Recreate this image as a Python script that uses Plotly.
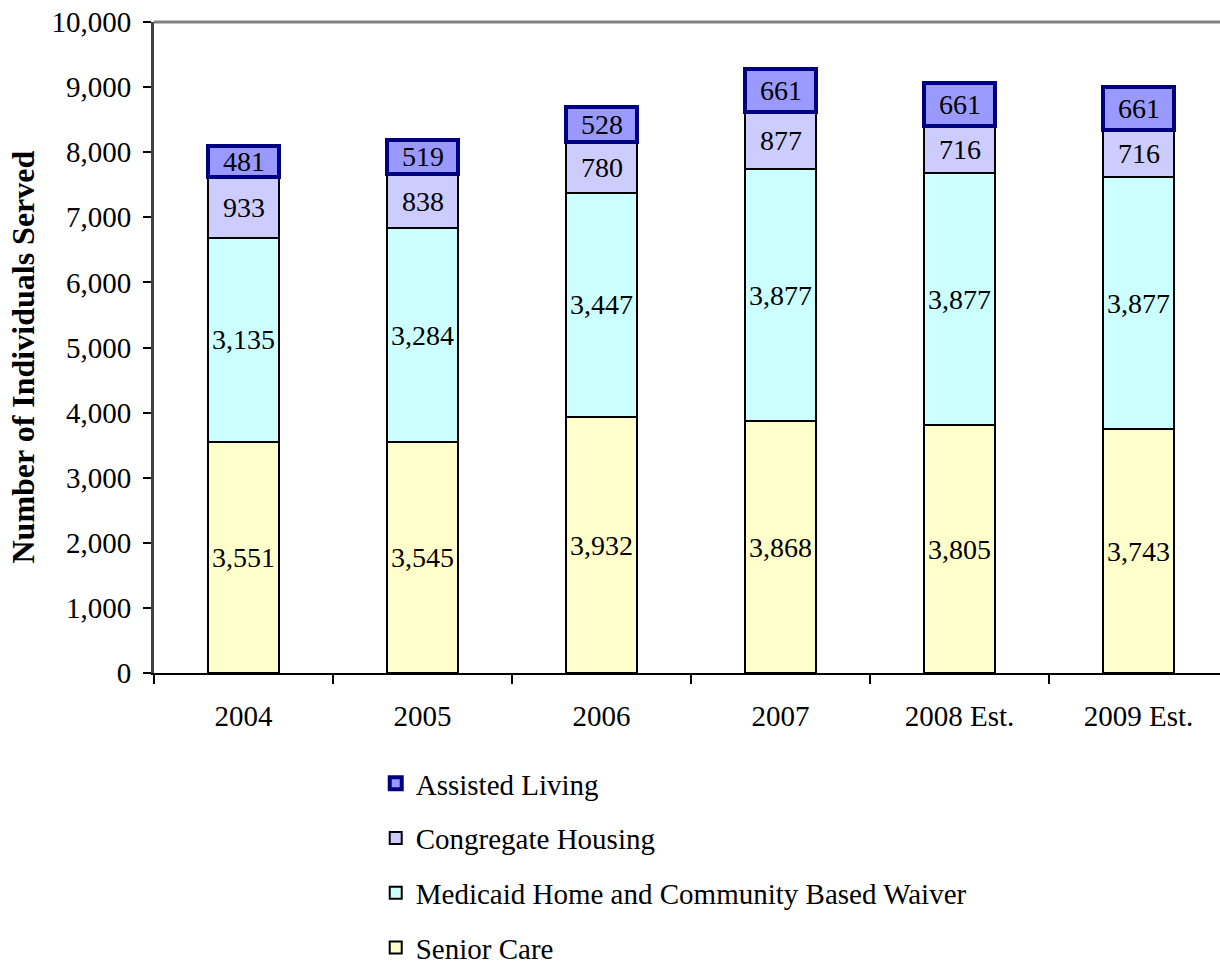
import plotly.graph_objects as go

years = ["2004", "2005", "2006", "2007", "2008 Est.", "2009 Est."]
senior_care = [3551, 3545, 3932, 3868, 3805, 3743]
medicaid_waiver = [3135, 3284, 3447, 3877, 3877, 3877]
congregate_housing = [933, 838, 780, 877, 716, 716]
assisted_living = [481, 519, 528, 661, 661, 661]

FONT = "Liberation Serif"

# name, values, fill, outline colour, outline width, legend rank
series = [
    ("Senior Care", senior_care, "#FFFFCC", "#000000", 2, 4),
    ("Medicaid Home and Community Based Waiver", medicaid_waiver, "#CCFFFF", "#000000", 2, 3),
    ("Congregate Housing", congregate_housing, "#CCCCFF", "#000000", 2, 2),
    ("Assisted Living", assisted_living, "#9999FF", "#000080", 4, 1),
]

fig = go.Figure()
base = [0] * len(years)
annotations = []
for name, vals, fill, edge, lw, rank in series:
    fig.add_trace(go.Bar(
        x=years, y=vals, name=name, legendgroup=name, legendrank=rank,
        marker=dict(color=fill, line=dict(color=edge, width=lw)),
        width=0.4,
    ))
    # value label centred in each segment
    for i, v in enumerate(vals):
        annotations.append(dict(
            x=i, y=base[i] + v / 2, xref="x", yref="y",
            text=f"{v:,}", showarrow=False,
            font=dict(family=FONT, size=28, color="#000000"),
        ))
        base[i] += v

annotations.append(dict(
    x=-131 / 1066, y=0.4846, xref="paper", yref="paper", xanchor="center", yanchor="middle",
    text="<b>Number of Individuals Served</b>", textangle=-90,
    showarrow=False, font=dict(family=FONT, size=32, color="#000000"),
))

fig.update_layout(
    barmode="stack",
    width=1220, height=964,
    margin=dict(l=154, r=0, t=22, b=291, autoexpand=False),
    paper_bgcolor="white", plot_bgcolor="white",
    font=dict(family=FONT, size=28, color="#000000"),
    showlegend=True,
    legend=dict(
        orientation="v", traceorder="grouped", tracegroupgap=14,
        x=0.208, xanchor="left", y=-0.1305, yanchor="top",
        font=dict(family=FONT, size=29, color="#000000"),
        bgcolor="rgba(0,0,0,0)",
    ),
    annotations=annotations,
    shapes=[dict(type="line", xref="paper", yref="paper", x0=0, x1=1, y0=1, y1=1,
                 line=dict(color="#808080", width=3))],
)
fig.update_xaxes(
    type="category",
    range=[-0.5, 5.455], showline=True, linecolor="#000000", linewidth=2,
    ticks="outside", tickson="boundaries", ticklen=9, tickcolor="#000000", tickwidth=1.5,
    showgrid=False, tickfont=dict(family=FONT, size=29), ticklabelstandoff=16,
)
fig.update_yaxes(
    range=[0, 10000], dtick=1000, tickformat=",d",
    showline=True, linecolor="#404040", linewidth=3,
    ticks="outside", ticklen=8, tickcolor="#000000", tickwidth=1.5,
    showgrid=False, tickfont=dict(family=FONT, size=29), zeroline=False,
    ticklabelstandoff=6,
)

fig.write_html("out.html")
